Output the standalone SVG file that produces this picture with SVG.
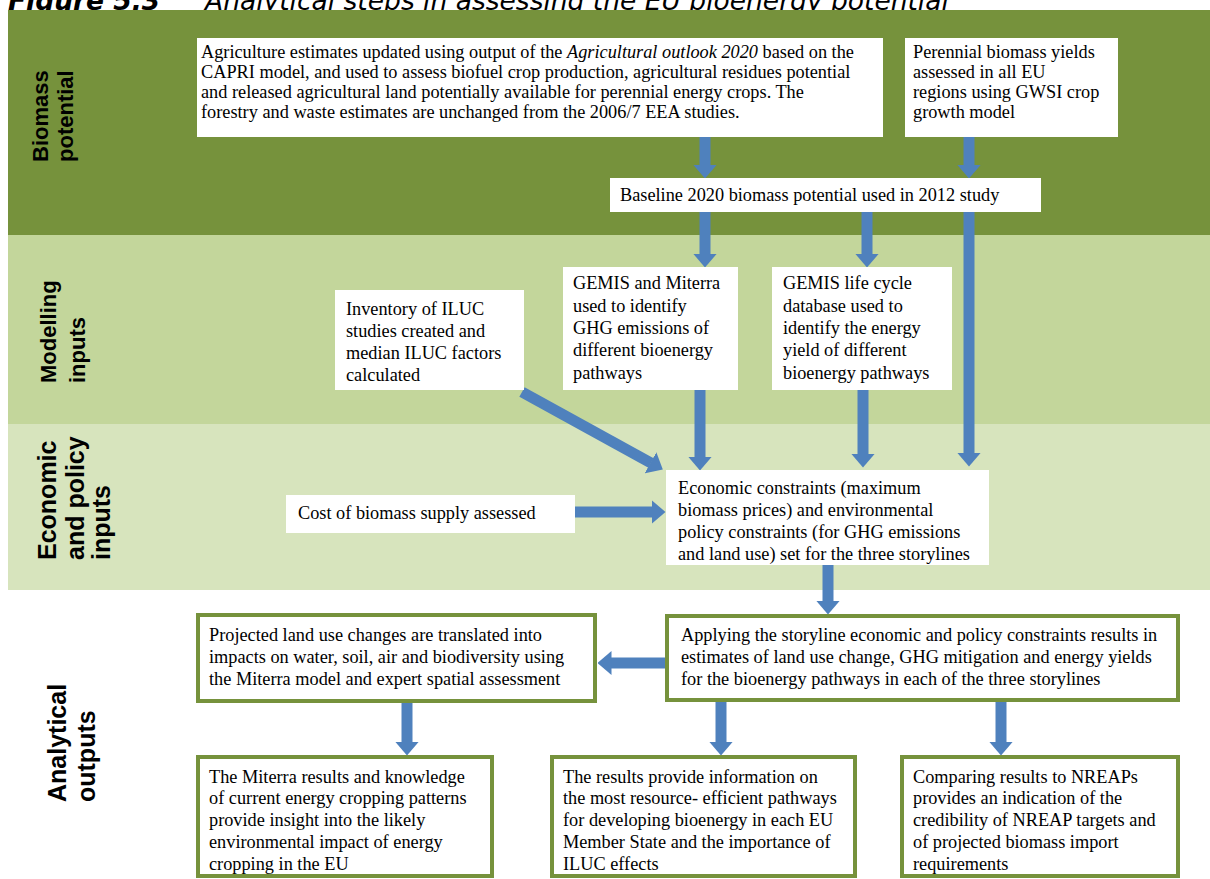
<svg xmlns="http://www.w3.org/2000/svg" width="1210" height="879" viewBox="0 0 1210 879">
<defs>
<style>
.title{font-family:"DejaVu Sans",Verdana,sans-serif;font-size:26.5px;font-style:italic;fill:#000}
.lbl{font-family:"Liberation Sans",Arial,sans-serif;font-weight:bold;fill:#000}
.t{font-family:"Liberation Serif","Times New Roman",serif;font-size:18.3px;fill:#000}
.box{fill:#fff}
.obox{fill:#fff;stroke:#76923C;stroke-width:4}
.arr{stroke:#4F81BD;stroke-width:11;fill:none;marker-end:url(#ah)}
</style>
<marker id="ah" markerUnits="userSpaceOnUse" markerWidth="14" markerHeight="24" viewBox="0 0 14 24" refX="0.5" refY="12" orient="auto">
<path d="M0,0 L14,12 L0,24 Z" fill="#4F81BD"/>
</marker>
</defs>
<rect width="1210" height="879" fill="#fff"/>
<text class="title" x="8" y="10"><tspan font-weight="bold">Figure 5.3</tspan><tspan x="205">Analytical steps in assessing the EU bioenergy potential</tspan></text>

<g id="bands">
<rect x="8" y="10" width="1202" height="225" fill="#76923C"/>
<rect x="8" y="235" width="1202" height="189" fill="#C3D69B"/>
<rect x="8" y="424" width="1202" height="166" fill="#D7E4BD"/>
</g>

<g id="labels">
<text class="lbl" font-size="22" transform="translate(48,162) rotate(-90)"><tspan x="0" y="0">Biomass</tspan><tspan x="0" y="25">potential</tspan></text>
<text class="lbl" font-size="22" transform="translate(56,383) rotate(-90)"><tspan x="0" y="0">Modelling</tspan><tspan x="0" y="29">inputs</tspan></text>
<text class="lbl" font-size="25" transform="translate(56,560) rotate(-90)"><tspan x="0" y="0">Economic</tspan><tspan x="0" y="28">and policy</tspan><tspan x="0" y="54">inputs</tspan></text>
<text class="lbl" font-size="25" transform="translate(66,802) rotate(-90)"><tspan x="0" y="0">Analytical</tspan><tspan x="0" y="29">outputs</tspan></text>
</g>

<g id="connectors">
<line class="arr" x1="705" y1="137" x2="705" y2="165"/>
<line class="arr" x1="969" y1="137" x2="969" y2="165"/>
<line class="arr" x1="705" y1="212" x2="705" y2="254"/>
<line class="arr" x1="867" y1="212" x2="867" y2="254"/>
<line class="arr" x1="969" y1="212" x2="969" y2="453" stroke-width="10"/>
<line class="arr" x1="700" y1="390" x2="700" y2="457"/>
<line class="arr" x1="863" y1="390" x2="863" y2="454"/>
<line class="arr" x1="522" y1="392" x2="651" y2="463"/>
<line class="arr" x1="575" y1="512" x2="652" y2="512"/>
<line class="arr" x1="828" y1="565" x2="828" y2="601"/>
<line class="arr" x1="667" y1="663" x2="611" y2="663"/>
<line class="arr" x1="407" y1="703" x2="407" y2="742"/>
<line class="arr" x1="721" y1="702" x2="721" y2="742"/>
<line class="arr" x1="1001" y1="702" x2="1001" y2="742"/>
</g>

<g id="node-agriculture">
<rect class="box" x="197" y="38" width="686" height="99"/>
<text class="t"><tspan x="201" y="58">Agriculture estimates updated using output of the <tspan font-style="italic">Agricultural outlook 2020</tspan> based on the</tspan><tspan x="201" y="78">CAPRI model, and used to assess biofuel crop production, agricultural residues potential</tspan><tspan x="201" y="98">and released agricultural land potentially available for perennial energy crops. The</tspan><tspan x="201" y="118">forestry and waste estimates are unchanged from the 2006/7 EEA studies.</tspan></text>
</g>

<g id="node-perennial">
<rect class="box" x="905" y="38" width="213" height="99"/>
<text class="t"><tspan x="913" y="58">Perennial biomass yields</tspan><tspan x="913" y="78">assessed in all EU</tspan><tspan x="913" y="98">regions using GWSI crop</tspan><tspan x="913" y="118">growth model</tspan></text>
</g>

<g id="node-baseline">
<rect class="box" x="610" y="178" width="431" height="34"/>
<text class="t" x="620" y="201">Baseline 2020 biomass potential used in 2012 study</text>
</g>

<g id="node-iluc">
<rect class="box" x="335" y="290" width="189" height="100"/>
<text class="t"><tspan x="346" y="315">Inventory of ILUC</tspan><tspan x="346" y="337">studies created and</tspan><tspan x="346" y="359">median ILUC factors</tspan><tspan x="346" y="381">calculated</tspan></text>
</g>

<g id="node-gemis-miterra">
<rect class="box" x="563" y="267" width="175" height="123"/>
<text class="t"><tspan x="573" y="289">GEMIS and Miterra</tspan><tspan x="573" y="312">used to identify</tspan><tspan x="573" y="334">GHG emissions of</tspan><tspan x="573" y="356">different bioenergy</tspan><tspan x="573" y="379">pathways</tspan></text>
</g>

<g id="node-gemis-lifecycle">
<rect class="box" x="772" y="267" width="180" height="123"/>
<text class="t"><tspan x="783" y="289">GEMIS life cycle</tspan><tspan x="783" y="312">database used to</tspan><tspan x="783" y="334">identify the energy</tspan><tspan x="783" y="356">yield of different</tspan><tspan x="783" y="379">bioenergy pathways</tspan></text>
</g>

<g id="node-cost">
<rect class="box" x="286" y="495" width="289" height="38"/>
<text class="t" x="298" y="519">Cost of biomass supply assessed</text>
</g>

<g id="node-economic">
<rect class="box" x="666" y="470" width="323" height="95"/>
<text class="t"><tspan x="678" y="494">Economic constraints (maximum</tspan><tspan x="678" y="516">biomass prices) and environmental</tspan><tspan x="678" y="538">policy constraints (for GHG emissions</tspan><tspan x="678" y="560">and land use) set for the three storylines</tspan></text>
</g>

<g id="node-projected">
<rect class="obox" x="198" y="615" width="397" height="86"/>
<text class="t"><tspan x="209" y="641">Projected land use changes are translated into</tspan><tspan x="209" y="663">impacts on water, soil, air and biodiversity using</tspan><tspan x="209" y="685">the Miterra model and expert spatial assessment</tspan></text>
</g>

<g id="node-applying">
<rect class="obox" x="667" y="616" width="511" height="84"/>
<text class="t"><tspan x="681" y="641">Applying the storyline economic and policy constraints results in</tspan><tspan x="681" y="663">estimates of land use change, GHG mitigation and energy yields</tspan><tspan x="681" y="685">for the bioenergy pathways in each of the three storylines</tspan></text>
</g>

<g id="node-miterra-results">
<rect class="obox" x="198" y="757" width="294" height="119"/>
<text class="t"><tspan x="209" y="783">The Miterra results and knowledge</tspan><tspan x="209" y="804">of current energy cropping patterns</tspan><tspan x="209" y="826">provide insight into the likely</tspan><tspan x="209" y="848">environmental impact of energy</tspan><tspan x="209" y="870">cropping in the EU</tspan></text>
</g>

<g id="node-results-info">
<rect class="obox" x="552" y="757" width="303" height="119"/>
<text class="t"><tspan x="563" y="783">The results provide information on</tspan><tspan x="563" y="804">the most resource- efficient pathways</tspan><tspan x="563" y="826">for developing bioenergy in each EU</tspan><tspan x="563" y="848">Member State and the importance of</tspan><tspan x="563" y="870">ILUC effects</tspan></text>
</g>

<g id="node-nreap">
<rect class="obox" x="902" y="757" width="276" height="119"/>
<text class="t"><tspan x="913" y="783">Comparing results to NREAPs</tspan><tspan x="913" y="804">provides an indication of the</tspan><tspan x="913" y="826">credibility of NREAP targets and</tspan><tspan x="913" y="848">of projected biomass import</tspan><tspan x="913" y="870">requirements</tspan></text>
</g>
</svg>
